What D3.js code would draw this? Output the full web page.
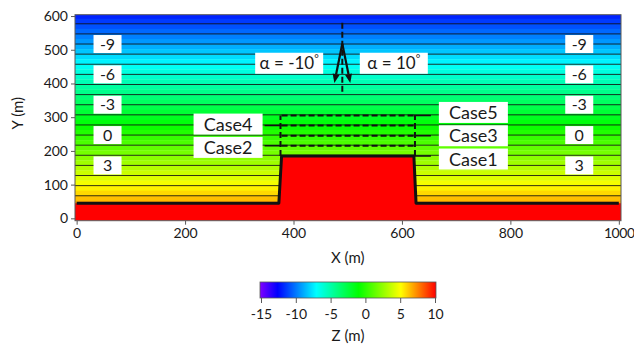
<!DOCTYPE html>
<html><head><meta charset="utf-8">
<script src="https://cdn.jsdelivr.net/npm/d3@7"></script>
<style>
body{margin:0;background:#fff}
text{font-family:Lato,"Open Sans",sans-serif;fill:#1a1a1a}
</style>
</head><body>
<svg id="c" width="634" height="345"></svg>
<script>
// ---------- data ----------
const xTicks = [0, 200, 400, 600, 800, 1000];
const yTicks = [0, 100, 200, 300, 400, 500, 600];
const colorTicks = [-15, -10, -5, 0, 5, 10];
const colorStopValues = [-15, -12.5, -7, -1, 5, 10];
const colorStopColors = ['#8000ff', '#0000ff', '#00ffff', '#00ff00', '#ffff00', '#ff0000'];
const contourLevels = [-11, -10, -9, -8, -7, -6, -5, -4, -3, -2, -1, 0, 1, 2, 3, 4, 5, 6];
const contourLabelLevels = [-9, -6, -3, 0, 3];
const contourLabelX = [57, 927];
const zeroLevelY = 247;      // Y (m) where Z = 0
const metersPerZ = 30;       // Y metres per 1 m of Z
const surfaceX = [0, 373, 378, 622, 626, 1000];
const surfaceY = [45, 45, 185, 185, 45, 45];
const caseNames = ['Case1', 'Case2', 'Case3', 'Case4', 'Case5'];
const caseHeights = [185, 215, 245, 275, 305];
const caseSides = ['right', 'left', 'right', 'left', 'right'];
const alphaValues = [-10, 10];
const arrowX = 490, arrowApexY = 518, arrowLineTop = 580, arrowLineBottom = 367, alphaLabelY = 460;

// ---------- layout ----------
const svg = d3.select('#c');
const x = d3.scaleLinear().domain([-3, 1004]).range([75, 621]);
const y = d3.scaleLinear().domain([-7, 604]).range([220.7, 14.7]);
const yAtZ = z => zeroLevelY - z * metersPerZ;
const color = d3.scaleLinear().domain(colorStopValues).range(colorStopColors).interpolate(d3.interpolateRgb);
const fmt = d => String(d);

const defs = svg.append('defs');
defs.append('clipPath').attr('id', 'plotclip').append('rect')
  .attr('x', x(-3)).attr('y', y(604)).attr('width', x(1004) - x(-3)).attr('height', y(-7) - y(604));

const plot = svg.append('g').attr('clip-path', 'url(#plotclip)');

// stepped colour field bands (half-unit filled contours)
const bandEdges = d3.range(-12.5, 8.01, 0.5);
plot.selectAll('rect.band').data(bandEdges.slice(0, -1)).join('rect')
  .attr('x', x(-3)).attr('width', x(1004) - x(-3))
  .attr('y', z => y(yAtZ(z)))
  .attr('height', z => y(yAtZ(z + 0.5)) - y(yAtZ(z)) + 0.3)
  .attr('fill', z => color(z + 0.25));

// contour lines
plot.selectAll('line.ct').data(contourLevels).join('line')
  .attr('x1', x(-3)).attr('x2', x(1004))
  .attr('y1', z => y(yAtZ(z))).attr('y2', z => y(yAtZ(z)))
  .attr('stroke', '#111').attr('stroke-width', 1).attr('opacity', 0.85);

// ground (red)
const surf = surfaceX.map((v, i) => [v, surfaceY[i]]);
const groundPoly = [[-3, surfaceY[0]], ...surf, [1004, surfaceY[surfaceY.length - 1]], [1004, -7], [-3, -7]];
plot.append('path')
  .attr('d', d3.line().x(d => x(d[0])).y(d => y(d[1]))(groundPoly) + 'Z')
  .attr('fill', '#ff0000');
plot.append('path')
  .attr('d', d3.line().x(d => x(d[0])).y(d => y(d[1]))(surf))
  .attr('fill', 'none').attr('stroke', '#111').attr('stroke-width', 3).attr('stroke-linejoin', 'round');

// dashed case outlines (Case2..5)
const blkL = surfaceX[2], blkR = surfaceX[3];
const caseTop = d3.max(caseHeights);
const dashG = plot.append('g').attr('stroke', '#111').attr('stroke-width', 2).attr('stroke-dasharray', '6,3').attr('fill', 'none');
dashG.selectAll('line.h').data(caseHeights.slice(1)).join('line')
  .attr('x1', x(blkL)).attr('x2', x(blkR)).attr('y1', d => y(d)).attr('y2', d => y(d));
dashG.selectAll('line.v').data([blkL - 2, blkR + 2]).join('line')
  .attr('x1', d => x(d)).attr('x2', d => x(d)).attr('y1', y(caseHeights[0])).attr('y2', y(caseTop));

// contour value labels
contourLabelX.forEach(cx => {
  const g = plot.append('g');
  contourLabelLevels.forEach(z => {
    const cy = y(yAtZ(z));
    g.append('rect').attr('x', x(cx) - 14).attr('y', cy - 9).attr('width', 28).attr('height', 18).attr('fill', '#fff');
    g.append('text').attr('x', x(cx)).attr('y', cy).attr('dy', '0.36em')
      .attr('text-anchor', 'middle').attr('font-size', 16).text(fmt(z));
  });
});

// case labels with leaders
['left', 'right'].forEach(side => {
  const idx = caseNames.map((n, i) => i).filter(i => caseSides[i] === side).sort((a, b) => caseHeights[b] - caseHeights[a]);
  const ys = idx.map(i => y(caseHeights[i]));
  const mid = d3.mean(ys);
  const step = 23.3;
  idx.forEach((i, k) => {
    const cy = mid + (k - (idx.length - 1) / 2) * step;
    const ly = y(caseHeights[i]);
    let bx, lx1, lx2;
    if (side === 'left') { lx2 = x(blkL); lx1 = lx2 - 17; bx = lx1 - 71; }
    else { lx1 = x(blkR); lx2 = lx1 + 17; bx = lx2 + 8; }
    plot.append('line').attr('x1', lx1).attr('x2', lx2).attr('y1', ly).attr('y2', ly)
      .attr('stroke', '#111').attr('stroke-width', 1.5);
    plot.append('rect').attr('x', bx).attr('y', cy - 10.5).attr('width', 69).attr('height', 21).attr('fill', '#fff');
    plot.append('text').attr('x', bx + 34.5).attr('y', cy).attr('dy', '0.36em')
      .attr('text-anchor', 'middle').attr('font-size', 18).text(caseNames[i]);
  });
});

// alpha arrows
plot.append('line').attr('x1', x(arrowX)).attr('x2', x(arrowX))
  .attr('y1', y(arrowLineTop)).attr('y2', y(arrowLineBottom))
  .attr('stroke', '#111').attr('stroke-width', 2).attr('stroke-dasharray', '6,3');
const apx = x(arrowX), apy = y(arrowApexY), L = 40;
alphaValues.forEach(a => {
  const r = a * Math.PI / 180;
  const tx = apx + L * Math.sin(r) * 1.15, ty = apy + L * Math.cos(r);
  const ang = Math.atan2(ty - apy, tx - apx);
  const hl = 9, hw = 3.5;
  const bxp = tx - hl * Math.cos(ang), byp = ty - hl * Math.sin(ang);
  plot.append('line').attr('x1', apx).attr('y1', apy).attr('x2', bxp).attr('y2', byp)
    .attr('stroke', '#111').attr('stroke-width', 2.2);
  plot.append('path').attr('d', `M${tx},${ty}L${bxp - hw * Math.sin(ang)},${byp + hw * Math.cos(ang)}L${bxp + hw * Math.sin(ang)},${byp - hw * Math.cos(ang)}Z`)
    .attr('fill', '#111');
  const cx = x(arrowX + (a < 0 ? -98 : 95)), cy = y(alphaLabelY);
  plot.append('rect').attr('x', cx - 34).attr('y', cy - 10.5).attr('width', 68).attr('height', 21).attr('fill', '#fff');
  const t = plot.append('text').attr('x', cx).attr('y', cy).attr('dy', '0.36em').attr('text-anchor', 'middle').attr('font-size', 17);
  t.append('tspan').text('α = ' + fmt(a));
  t.append('tspan').attr('font-size', 11).attr('dy', '-0.55em').text('°');
});

// frame
svg.append('rect').attr('x', x(-3)).attr('y', y(604)).attr('width', x(1004) - x(-3)).attr('height', y(-7) - y(604))
  .attr('fill', 'none').attr('stroke', '#595959').attr('stroke-width', 1);

// axes
const xAx = svg.append('g').attr('transform', `translate(0,${y(-7)})`)
  .call(d3.axisBottom(x).tickValues(xTicks).tickFormat(fmt).tickSize(4).tickPadding(3));
const yAx = svg.append('g').attr('transform', `translate(${x(-3)},0)`)
  .call(d3.axisLeft(y).tickValues(yTicks).tickFormat(fmt).tickSize(4).tickPadding(3));
[xAx, yAx].forEach(a => {
  a.select('.domain').remove();
  a.selectAll('line').attr('stroke', '#595959');
  a.selectAll('text').attr('font-size', 14).attr('font-family', 'Lato').attr('fill', '#1a1a1a');
});
xAx.selectAll('.tick text').filter(d => d === d3.max(xTicks)).attr('letter-spacing', -0.4);
svg.append('text').attr('x', (x(0) + x(1000)) / 2).attr('y', 258).attr('dy', '0.36em')
  .attr('text-anchor', 'middle').attr('font-size', 15).text('X (m)');
svg.append('text').attr('transform', `translate(18,${(y(0) + y(600)) / 2 - 4}) rotate(-90)`).attr('dy', '0.36em')
  .attr('text-anchor', 'middle').attr('font-size', 15).text('Y (m)');

// colour bar
const cb = d3.scaleLinear().domain([-15, 10]).range([261, 435]);
const grad = defs.append('linearGradient').attr('id', 'cbg').attr('x1', '0%').attr('x2', '100%');
colorStopValues.forEach((v, i) => grad.append('stop').attr('offset', (v + 15) / 25).attr('stop-color', colorStopColors[i]));
svg.append('rect').attr('x', cb(-15) - 1).attr('y', 282).attr('width', cb(10) - cb(-15) + 2).attr('height', 16)
  .attr('fill', 'url(#cbg)').attr('stroke', '#595959').attr('stroke-width', 0.8);
const cAx = svg.append('g').attr('transform', 'translate(0,298)')
  .call(d3.axisBottom(cb).tickValues(colorTicks).tickFormat(fmt).tickSize(5).tickPadding(6));
cAx.select('.domain').remove();
cAx.selectAll('line').attr('stroke', '#595959');
cAx.selectAll('text').attr('font-size', 14).attr('font-family', 'Lato').attr('fill', '#1a1a1a');
svg.append('text').attr('x', (cb(-15) + cb(10)) / 2).attr('y', 336).attr('dy', '0.36em')
  .attr('text-anchor', 'middle').attr('font-size', 15).text('Z (m)');
</script>
</body></html>
